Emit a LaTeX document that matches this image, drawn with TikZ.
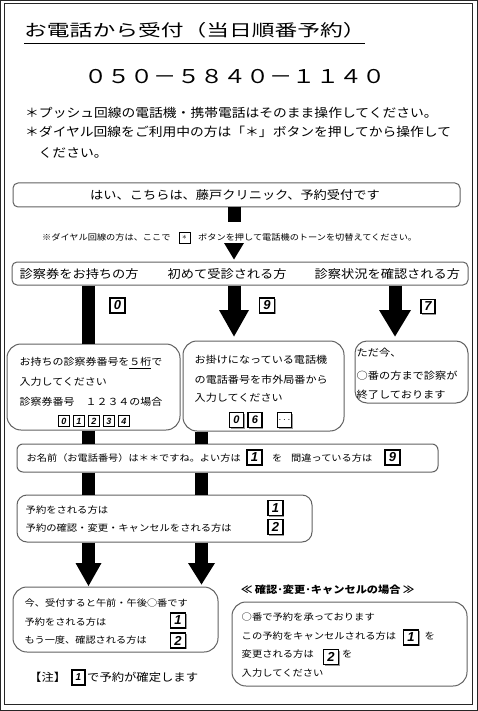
\documentclass[tikz,border=0pt]{standalone}
\usepackage{fontspec}
\usetikzlibrary{calc,shadows}
\newfontfamily\jp{Noto Sans CJK JP}[FakeStretch=1.12]
\newfontfamily\jpt{Noto Sans CJK JP}[FakeStretch=1.38]
\newfontfamily\jpp{Noto Sans CJK JP}[FakeStretch=1.22]
\newfontfamily\numf{Liberation Sans}
\newcommand\fsz[1]{\fontsize{#1pt}{#1pt}\selectfont}
\begin{document}
\begin{tikzpicture}[x=1pt,y=-1pt,
  frame/.style={draw=black!85, line width=1.3pt},
  rbox/.style={draw=black!62, line width=1pt, fill=white, inner sep=0pt},
  tl/.style={anchor=base west, inner sep=0pt},
  stem/.style={line width=13pt, black},
  head/.style={fill=black},
  numbox/.style={draw=black, line width=1.1pt, fill=white, minimum width=15pt, minimum height=15pt, inner sep=0pt,
     font=\numf\bfseries\itshape\fsz{13}, drop shadow={shadow xshift=1pt, shadow yshift=-1pt, fill=black!40, opacity=1}},
  smallbox/.style={numbox, minimum width=10.5pt, minimum height=10.5pt, line width=0.9pt, font=\numf\bfseries\itshape\fsz{9}},
]
\useasboundingbox (0,0) rectangle (478,711);
\fill[white] (0,0) rectangle (478,711);
% frame
\draw[frame] (0.7,0.7) rectangle (477.3,710.3);
\draw[frame] (4.3,3.8) rectangle (472.7,704.5);

% title
\node[tl, font=\jpt\fsz{16.5}] (title) at (24,36.8) {お電話から受付（当日順番予約）};
\draw[line width=0.9pt] (24,43) -- (365,43);
\node[anchor=base, inner sep=0pt, font=\jpp\fsz{19}] (phone) at (235,83.5) {０５０－５８４０－１１４０};
\node[tl, font=\jp\fsz{12.3}] (l1) at (25,117.6) {＊プッシュ回線の電話機・携帯電話はそのまま操作してください。};
\node[tl, font=\jp\fsz{12.3}] (l2) at (25,136.6) {＊ダイヤル回線をご利用中の方は「＊」ボタンを押してから操作して};
\node[tl, font=\jp\fsz{12.3}] (l3) at (38.5,157.6) {ください。};

% columns
\coordinate (cL) at (88.5,0);
\coordinate (cM) at (234,0);
\coordinate (cR) at (395,0);
\coordinate (cM2) at (201.5,0);

% boxes
\node[rbox, rounded corners=5pt, minimum width=447pt, minimum height=24pt] (A) at (236.5,195) {};
\node[rbox, rounded corners=5pt, minimum width=456pt, minimum height=23pt] (B) at (240,273.5) {};
\node[rbox, rounded corners=14pt, minimum width=173pt, minimum height=86pt] (C) at (93.5,387) {};
\node[rbox, rounded corners=14pt, minimum width=161pt, minimum height=90pt] (D) at (263.5,386) {};
\node[rbox, rounded corners=12pt, minimum width=113pt, minimum height=62pt] (E) at (411.5,372) {};
\node[rbox, rounded corners=6pt, minimum width=421pt, minimum height=28pt] (F) at (227.5,458) {};
\node[rbox, rounded corners=10pt, minimum width=295pt, minimum height=47pt] (G) at (164.5,518.5) {};
\node[rbox, rounded corners=14pt, minimum width=205pt, minimum height=65pt] (H) at (115.5,619.5) {};
\node[rbox, rounded corners=14pt, minimum width=235pt, minimum height=84pt] (I) at (349.5,644) {};

% A text and note
\node[anchor=base, inner sep=0pt, font=\jp\fsz{11.8}] (At) at (235,199.5) {はい、こちらは、藤戸クリニック、予約受付です};
\coordinate (sA) at (234,222);
\coordinate (hT) at (234,243);
\draw[stem] (A.south -| cM) -- (sA);
\fill[head] ($(hT)+(-10,0)$) -- ($(hT)+(10,0)$) -- ($(B.north -| cM)+(0,-2)$) -- cycle;
\node[tl, font=\jp\fsz{8.2}] (n1) at (42,240.1) {※ダイヤル回線の方は、ここで};
\node[numbox, minimum width=11pt, minimum height=11pt, line width=0.8pt, font=\fsz{9}] (star) at (184.5,237.5) {$\ast$};
\node[tl, font=\jp\fsz{8.2}] (n2) at (198,240.1) {ボタンを押して電話機のトーンを切替えてください。};

% B text
\node[tl, font=\jp\fsz{11.8}] (B1) at (19.5,278.5) {診察券をお持ちの方};
\node[tl, font=\jp\fsz{11.8}] (B2) at (167.5,278.5) {初めて受診される方};
\node[tl, font=\jp\fsz{11.8}] (B3) at (314.5,278.5) {診察状況を確認される方};

% B arrows
\coordinate (hM) at (234,310);
\coordinate (hR) at (395,310);
\draw[stem] (B.south -| cL) -- (C.north -| cL);
\draw[stem] (B.south -| cM) -- (hM);
\fill[head] ($(hM)+(-15,0)$) -- ($(hM)+(15,0)$) -- ($(D.north -| cM)+(0,-4)$) -- cycle;
\draw[stem] (B.south -| cR) -- (hR);
\fill[head] ($(hR)+(-16,0)$) -- ($(hR)+(16,0)$) -- ($(E.north -| cR)+(0,-4)$) -- cycle;
\node[numbox] (k0) at (117.5,305.5) {0};
\node[numbox] (k9) at (267,305.5) {9};
\node[numbox, minimum width=14pt, minimum height=14pt] (k7) at (428,306.5) {7};

% C text
\node[tl, font=\jp\fsz{9.8}] (C1) at (19.5,365.7) {お持ちの診察券番号を\underline{５桁}で};
\node[tl, font=\jp\fsz{9.8}] (C2) at (19.5,385.7) {入力してください};
\node[tl, font=\jp\fsz{9.8}] (C3) at (19.5,405.7) {診察券番号　１２３４の場合};
\node[smallbox] (c0) at (64,421) {0};
\node[smallbox] (c1) at (79,421) {1};
\node[smallbox] (c2) at (94,421) {2};
\node[smallbox] (c3) at (109,421) {3};
\node[smallbox] (c4) at (124,421) {4};

% D text
\node[tl, font=\jp\fsz{9.9}] (D1) at (194.5,363.8) {お掛けになっている電話機};
\node[tl, font=\jp\fsz{9.9}] (D2) at (194.5,383.8) {の電話番号を市外局番から};
\node[tl, font=\jp\fsz{9.9}] (D3) at (194.5,401.8) {入力してください};
\node[numbox, minimum width=14pt, font=\numf\bfseries\itshape\fsz{11}] (d0) at (236.5,420) {0};
\node[numbox, minimum width=14pt, font=\numf\bfseries\itshape\fsz{11}] (d6) at (255,420) {6};
\node[numbox, minimum width=14pt, font=\fsz{10}] (dd) at (284.5,420) {$\cdots$};

% E text
\node[tl, font=\jp\fsz{10}] (E1) at (356.5,356.8) {ただ今、};
\node[tl, font=\jp\fsz{10}] (E2) at (356.5,379.8) {○番の方まで診察が};
\node[tl, font=\jp\fsz{10}] (E3) at (356.5,398.8) {終了しております};

% C,D -> F
\draw[stem] (C.south -| cL) -- (F.north -| cL);
\draw[stem] (D.south -| cM2) -- (F.north -| cM2);

% F text
\node[tl, font=\jp\fsz{9.1}] (F1) at (26.5,461.5) {お名前（お電話番号）は＊＊ですね。よい方は};
\node[numbox] (f1) at (254.5,457.5) {1};
\node[tl, font=\jp\fsz{9.1}] (F2) at (272,461.5) {を};
\node[tl, font=\jp\fsz{9.1}] (F3) at (291,461.5) {間違っている方は};
\node[numbox] (f9) at (392.5,457.5) {9};

% F -> G
\draw[stem] (F.south -| cL) -- (G.north -| cL);
\draw[stem] (F.south -| cM2) -- (G.north -| cM2);

% G text
\node[tl, font=\jp\fsz{9.2}] (G1) at (25.5,513.5) {予約をされる方は};
\node[tl, font=\jp\fsz{9.2}] (G2) at (25.5,531.5) {予約の確認・変更・キャンセルをされる方は};
\node[numbox] (g1) at (275.5,508) {1};
\node[numbox] (g2) at (275.5,527) {2};

% G -> H
\coordinate (hL) at (88.5,563);
\coordinate (hM2) at (201.5,563);
\draw[stem] (G.south -| cL) -- (hL);
\fill[head] ($(hL)+(-13,0)$) -- ($(hL)+(13,0)$) -- ($(H.north -| cL)+(0,-0.5)$) -- cycle;
\draw[stem] (G.south -| cM2) -- (hM2);
\fill[head] ($(hM2)+(-13.5,0)$) -- ($(hM2)+(13.5,0)$) -- ($(H.north -| cM2)+(0,-2)$) -- cycle;

% H text
\node[tl, font=\jp\fsz{9.1}] (H1) at (24.5,606.5) {今、受付すると午前・午後○番です};
\node[tl, font=\jp\fsz{9.1}] (H2) at (24.5,625.5) {予約をされる方は};
\node[tl, font=\jp\fsz{9.1}] (H3) at (24.5,643.5) {もう一度、確認される方は};
\node[numbox] (h1) at (178,620.5) {1};
\node[numbox] (h2) at (178,640.5) {2};

% note
\node[tl, font=\jp\fsz{11}] (nt1) at (29,681.2) {【注】};
\node[numbox, minimum width=13pt, font=\numf\bfseries\itshape\fsz{10}] (nt1b) at (78.5,677.5) {1};
\node[tl, font=\jp\fsz{11}] (nt2) at (87,681.2) {で予約が確定します};

% heading and I
\node[tl, font=\jp\bfseries\fsz{10}] (hd) at (241,593.5) {≪ 確認･変更･キャンセルの場合 ≫};
\node[tl, font=\jp\fsz{9.2}] (I1) at (241.5,620.5) {○番で予約を承っております};
\node[tl, font=\jp\fsz{9.2}] (I2) at (241.5,639.5) {この予約をキャンセルされる方は};
\node[numbox] (i1) at (411,637.5) {1};
\node[tl, font=\jp\fsz{9.2}] (I2b) at (424.5,639.5) {を};
\node[tl, font=\jp\fsz{9.2}] (I3) at (241.5,657.5) {変更される方は};
\node[numbox] (i2) at (331,657) {2};
\node[tl, font=\jp\fsz{9.2}] (I3b) at (342,657.5) {を};
\node[tl, font=\jp\fsz{9.2}] (I4) at (241.5,676.5) {入力してください};
\end{tikzpicture}
\end{document}
